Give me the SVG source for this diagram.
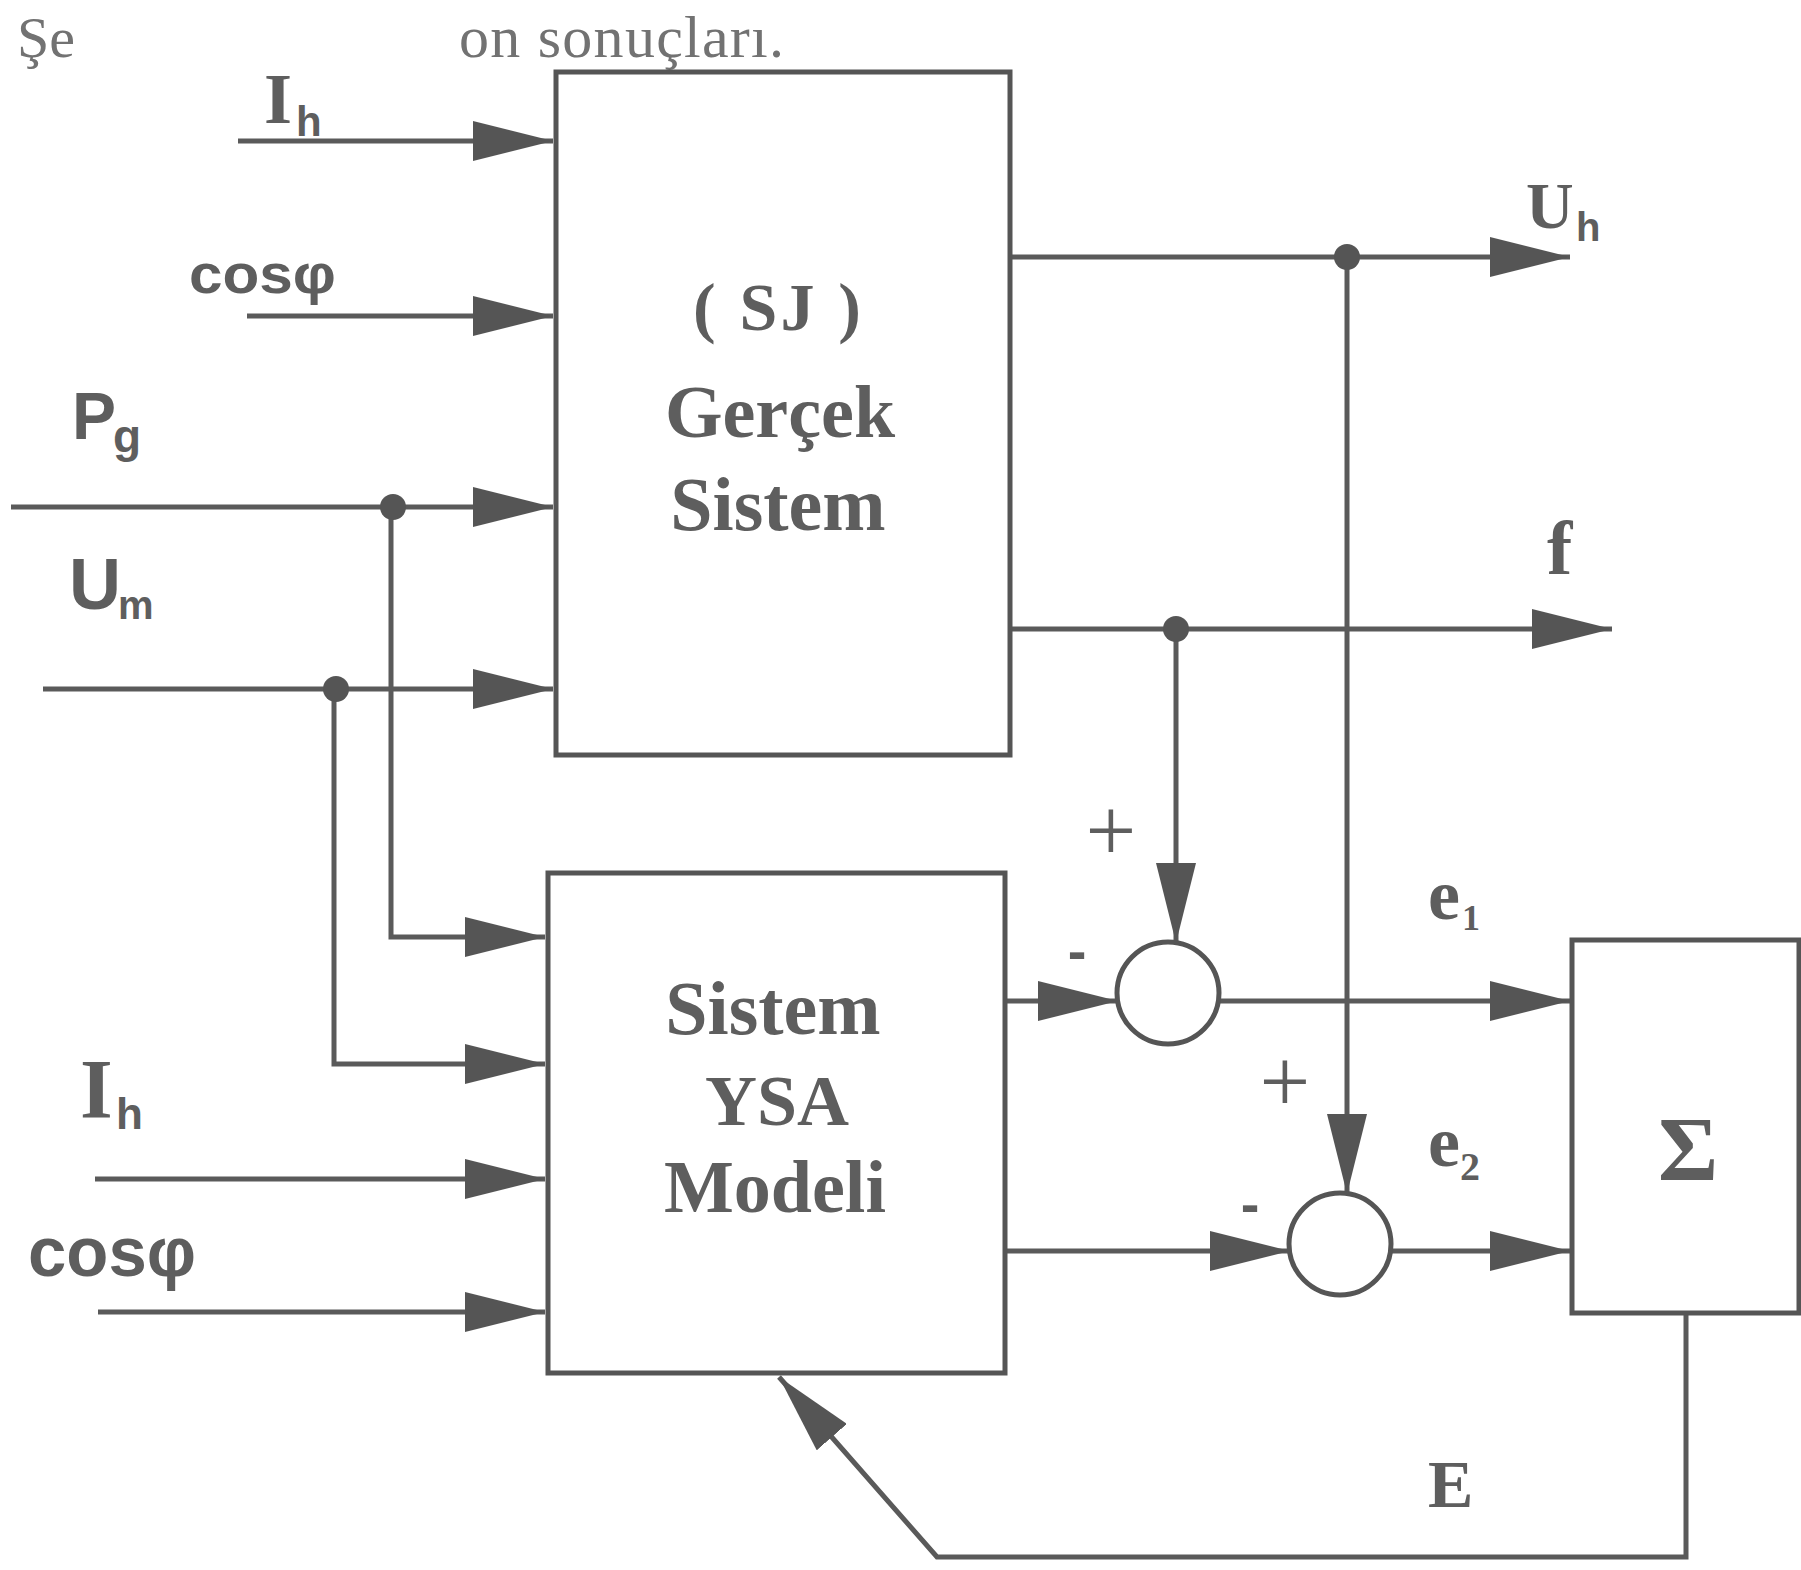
<svg xmlns="http://www.w3.org/2000/svg" width="1801" height="1570" viewBox="0 0 1801 1570">
<style>
.ln{fill:none;stroke:#5a5a5a;stroke-width:5}
.bx{fill:none;stroke:#555;stroke-width:5}
.dot{fill:#555}
.ser{font-family:"Liberation Serif",serif;font-weight:bold;fill:#5e5e5e}
.san{font-family:"Liberation Sans",sans-serif;font-weight:bold;fill:#5e5e5e}
.ttl{font-family:"Liberation Serif",serif;fill:#727272}
.sgn{font-family:"Liberation Serif",serif;fill:#5e5e5e}
</style>
<defs>
<marker id="arr" viewBox="0 0 80 40" refX="80" refY="20" markerWidth="80" markerHeight="40" markerUnits="userSpaceOnUse" orient="auto">
<path d="M0,0 L80,20 L0,40 Z" fill="#555"/>
</marker>
</defs>
<rect width="1801" height="1570" fill="#fff"/>
<g id="title">
<text class="ttl" x="17" y="57" font-size="58">Şe</text>
<text class="ttl" x="459" y="57" font-size="60" textLength="325">on sonuçları.</text>
</g>
<g id="connectors">
<path class="ln" d="M238,141 H553" marker-end="url(#arr)"/>
<path class="ln" d="M247,316 H553" marker-end="url(#arr)"/>
<path class="ln" d="M11,507 H553" marker-end="url(#arr)"/>
<path class="ln" d="M43,689 H553" marker-end="url(#arr)"/>
<path class="ln" d="M391,507 V937 H545" marker-end="url(#arr)"/>
<path class="ln" d="M334,689 V1064 H545" marker-end="url(#arr)"/>
<path class="ln" d="M95,1179 H545" marker-end="url(#arr)"/>
<path class="ln" d="M98,1312 H545" marker-end="url(#arr)"/>
<path class="ln" d="M1010,257 H1570" marker-end="url(#arr)"/>
<path class="ln" d="M1010,629 H1612" marker-end="url(#arr)"/>
<path class="ln" d="M1347,257 V1194" marker-end="url(#arr)"/>
<path class="ln" d="M1176,629 V943" marker-end="url(#arr)"/>
<path class="ln" d="M1005,1001 H1118" marker-end="url(#arr)"/>
<path class="ln" d="M1219,1001 H1570" marker-end="url(#arr)"/>
<path class="ln" d="M1005,1251 H1290" marker-end="url(#arr)"/>
<path class="ln" d="M1391,1251 H1570" marker-end="url(#arr)"/>
<path class="ln" d="M1686,1313 V1557 H937 L779,1377" marker-end="url(#arr)"/>
<circle class="dot" cx="393" cy="507" r="13"/>
<circle class="dot" cx="336" cy="689" r="13"/>
<circle class="dot" cx="1347" cy="257" r="13"/>
<circle class="dot" cx="1176" cy="629" r="13"/>
</g>
<g id="gercek-sistem">
<rect class="bx" x="556" y="72" width="454" height="683"/>
<text class="ser" x="693" y="330" font-size="68" textLength="168">( SJ )</text>
<text class="ser" x="780" y="437" font-size="74" text-anchor="middle">Gerçek</text>
<text class="ser" x="778" y="530" font-size="76" text-anchor="middle">Sistem</text>
</g>
<g id="ysa-modeli">
<rect class="bx" x="548" y="873" width="457" height="500"/>
<text class="ser" x="773" y="1034" font-size="76" text-anchor="middle">Sistem</text>
<text class="ser" x="777" y="1125" font-size="72" text-anchor="middle">YSA</text>
<text class="ser" x="775" y="1212" font-size="74" text-anchor="middle">Modeli</text>
</g>
<g id="sum1">
<circle class="bx" cx="1168" cy="993" r="51"/>
<text class="sgn" x="1111" y="861" font-size="90" text-anchor="middle">+</text>
<text class="san" x="1077" y="970" font-size="56" text-anchor="middle">-</text>
</g>
<g id="sum2">
<circle class="bx" cx="1340" cy="1244" r="51"/>
<text class="sgn" x="1285" y="1112" font-size="90" text-anchor="middle">+</text>
<text class="san" x="1250" y="1223" font-size="56" text-anchor="middle">-</text>
</g>
<g id="sigma">
<rect class="bx" x="1572" y="940" width="227" height="373"/>
<text class="ser" x="1688" y="1180" font-size="92" text-anchor="middle">Σ</text>
</g>
<g id="labels">
<text x="264" y="123"><tspan class="ser" font-size="72">I</tspan><tspan class="san" font-size="42" x="296" y="136">h</tspan></text>
<text class="san" x="189" y="293" font-size="56" textLength="147" lengthAdjust="spacingAndGlyphs">cosφ</text>
<text x="72" y="439"><tspan class="san" font-size="66">P</tspan><tspan class="san" font-size="46" x="113" y="452">g</tspan></text>
<text x="69" y="609"><tspan class="san" font-size="72">U</tspan><tspan class="san" font-size="40" x="118" y="619">m</tspan></text>
<text x="80" y="1118"><tspan class="ser" font-size="84">I</tspan><tspan class="san" font-size="44" x="116" y="1129">h</tspan></text>
<text class="san" x="28" y="1276" font-size="70" textLength="168" lengthAdjust="spacingAndGlyphs">cosφ</text>
<text x="1526" y="228"><tspan class="ser" font-size="66">U</tspan><tspan class="san" font-size="40" x="1576" y="241">h</tspan></text>
<text class="ser" x="1547" y="574" font-size="76">f</text>
<text x="1428" y="919"><tspan class="ser" font-size="72">e</tspan><tspan class="ser" font-size="36" x="1462" y="930">1</tspan></text>
<text x="1428" y="1166"><tspan class="ser" font-size="72">e</tspan><tspan class="ser" font-size="40" x="1460" y="1180">2</tspan></text>
<text class="ser" x="1428" y="1507" font-size="68">E</text>
</g>
</svg>
